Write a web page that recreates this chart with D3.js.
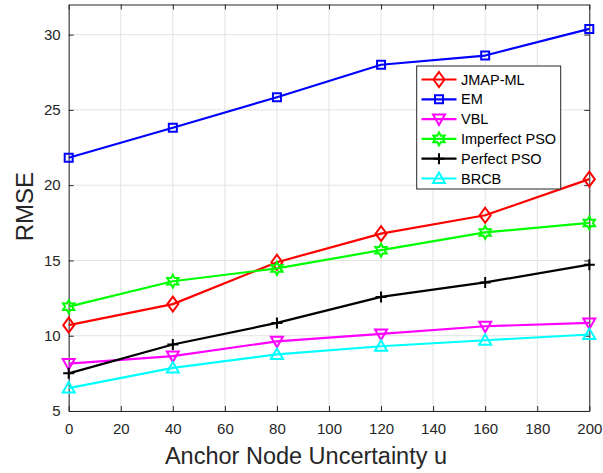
<!DOCTYPE html>
<html>
<head>
<meta charset="utf-8">
<script src="https://cdn.jsdelivr.net/npm/d3@7"></script>
<style>
  html, body { margin: 0; padding: 0; background: #fff; }
  svg { display: block; font-family: "Liberation Sans", Arial, sans-serif; }
</style>
</head>
<body>
<svg id="chart" width="603" height="473"></svg>
<script>
// Anchor node uncertainty values (x axis)
const uncertainty = [0, 40, 80, 120, 160, 200];

// RMSE for each method
const jmapML       = [10.7, 12.1, 14.88, 16.78, 18.0, 20.4];
const em           = [21.82, 23.81, 25.84, 28.0, 28.61, 30.38];
const vbl          = [8.15, 8.65, 9.63, 10.12, 10.63, 10.85];
const imperfectPSO = [11.93, 13.62, 14.47, 15.68, 16.86, 17.49];
const perfectPSO   = [7.5, 9.42, 10.85, 12.58, 13.54, 14.72];
const brcb         = [6.52, 7.86, 8.76, 9.3, 9.7, 10.08];

const seriesNames = ["JMAP-ML", "EM", "VBL", "Imperfect PSO", "Perfect PSO", "BRCB"];
const seriesValues = [jmapML, em, vbl, imperfectPSO, perfectPSO, brcb];
const seriesColors = ["#ff0000", "#0000ff", "#ff00ff", "#00ff00", "#000000", "#00ffff"];
const seriesMarkers = ["diamond", "square", "triangleDown", "hexagram", "plus", "triangleUp"];

const xTicks = [0, 20, 40, 60, 80, 100, 120, 140, 160, 180, 200];
const yTicks = [5, 10, 15, 20, 25, 30];

const svg = d3.select("#chart");
const plotLeft = 68.7, plotRight = 589.3, plotTop = 4.5, plotBottom = 411;

const x = d3.scaleLinear().domain([0, 200]).range([plotLeft, plotRight]);
const y = d3.scaleLinear().domain([5, 32]).range([plotBottom, plotTop]);

const axisColor = "#262626";
const gridColor = "#e3e3e3";

// grid
const grid = svg.append("g");
grid.selectAll("line.gx").data(xTicks).join("line")
  .attr("x1", d => x(d)).attr("x2", d => x(d))
  .attr("y1", plotTop).attr("y2", plotBottom)
  .attr("stroke", gridColor).attr("stroke-width", 1);
grid.selectAll("line.gy").data(yTicks).join("line")
  .attr("x1", plotLeft).attr("x2", plotRight)
  .attr("y1", d => y(d)).attr("y2", d => y(d))
  .attr("stroke", gridColor).attr("stroke-width", 1);

// axes (ticks pointing inward, box on all sides)
function styleAxis(g) {
  g.selectAll(".domain").attr("stroke", axisColor).attr("stroke-width", 1);
  g.selectAll(".tick line").attr("stroke", axisColor).attr("stroke-width", 1);
  g.selectAll(".tick text").attr("fill", axisColor)
    .style("font-family", "Liberation Sans, Arial, sans-serif").style("font-size", "15px");
}
const tickLen = 5;
svg.append("g").attr("transform", `translate(0,${plotBottom})`)
  .call(d3.axisBottom(x).tickValues(xTicks).tickSize(-tickLen).tickPadding(12.5).tickSizeOuter(0))
  .call(styleAxis);
svg.append("g").attr("transform", `translate(0,${plotTop})`)
  .call(d3.axisTop(x).tickValues(xTicks).tickSize(-tickLen).tickSizeOuter(0).tickFormat(""))
  .call(styleAxis);
svg.append("g").attr("transform", `translate(${plotLeft},0)`)
  .call(d3.axisLeft(y).tickValues(yTicks).tickSize(-tickLen).tickPadding(8).tickSizeOuter(0))
  .call(styleAxis);
svg.append("g").attr("transform", `translate(${plotRight},0)`)
  .call(d3.axisRight(y).tickValues(yTicks).tickSize(-tickLen).tickSizeOuter(0).tickFormat(""))
  .call(styleAxis);

// axis titles
svg.append("text")
  .attr("x", (plotLeft + plotRight) / 2 - 23).attr("y", 464)
  .attr("text-anchor", "middle").attr("fill", axisColor)
  .style("font-size", "23.5px")
  .text("Anchor Node Uncertainty u");
svg.append("text")
  .attr("transform", `translate(33.3,206.7) rotate(-90)`)
  .attr("text-anchor", "middle").attr("fill", axisColor)
  .style("font-size", "24px")
  .text("RMSE");

// marker shapes
function markerPath(kind) {
  switch (kind) {
    case "diamond": return "M0,-7.5L5.5,0L0,7.5L-5.5,0Z";
    case "square": return "M-4,-4H4V4H-4Z";
    case "triangleDown": return "M-6,-4.5H6L0,6Z";
    case "triangleUp": return "M-6,4.5H6L0,-6Z";
    case "plus": return "M-5.5,0H5.5M0,-5.5V5.5";
    case "hexagram": {
      const pts = [];
      for (let i = 0; i < 12; i++) {
        const r = i % 2 === 0 ? 6.5 : 3.6;
        const a = Math.PI / 2 + i * Math.PI / 6;
        pts.push([r * Math.cos(a), -r * Math.sin(a)]);
      }
      return "M" + pts.map(p => p.join(",")).join("L") + "Z";
    }
  }
}

const line = d3.line().x((d, i) => x(uncertainty[i])).y(d => y(d));

seriesValues.forEach((vals, k) => {
  const g = svg.append("g");
  g.append("path").datum(vals)
    .attr("d", line).attr("fill", "none")
    .attr("stroke", seriesColors[k]).attr("stroke-width", 2.2)
    .attr("stroke-linejoin", "round");
  g.selectAll("path.m").data(vals).join("path")
    .attr("class", "m")
    .attr("transform", (d, i) => `translate(${x(uncertainty[i])},${y(d)})`)
    .attr("d", markerPath(seriesMarkers[k]))
    .attr("fill", "none")
    .attr("stroke", seriesColors[k]).attr("stroke-width", 2);
});

// legend
const lg = svg.append("g");
lg.append("rect").attr("x", 416.7).attr("y", 66).attr("width", 144).attr("height", 123)
  .attr("fill", "#fff").attr("stroke", axisColor).attr("stroke-width", 1);
seriesNames.forEach((name, k) => {
  const cy = 79.5 + k * 19.8;
  lg.append("line").attr("x1", 421.5).attr("x2", 456.5).attr("y1", cy).attr("y2", cy)
    .attr("stroke", seriesColors[k]).attr("stroke-width", 2.2);
  lg.append("path").attr("transform", `translate(439,${cy})`)
    .attr("d", markerPath(seriesMarkers[k]))
    .attr("fill", "none").attr("stroke", seriesColors[k]).attr("stroke-width", 2);
  lg.append("text").attr("x", 461).attr("y", cy).attr("dy", "0.35em")
    .attr("fill", "#000").style("font-size", "14.5px").text(name);
});
</script>
</body>
</html>
